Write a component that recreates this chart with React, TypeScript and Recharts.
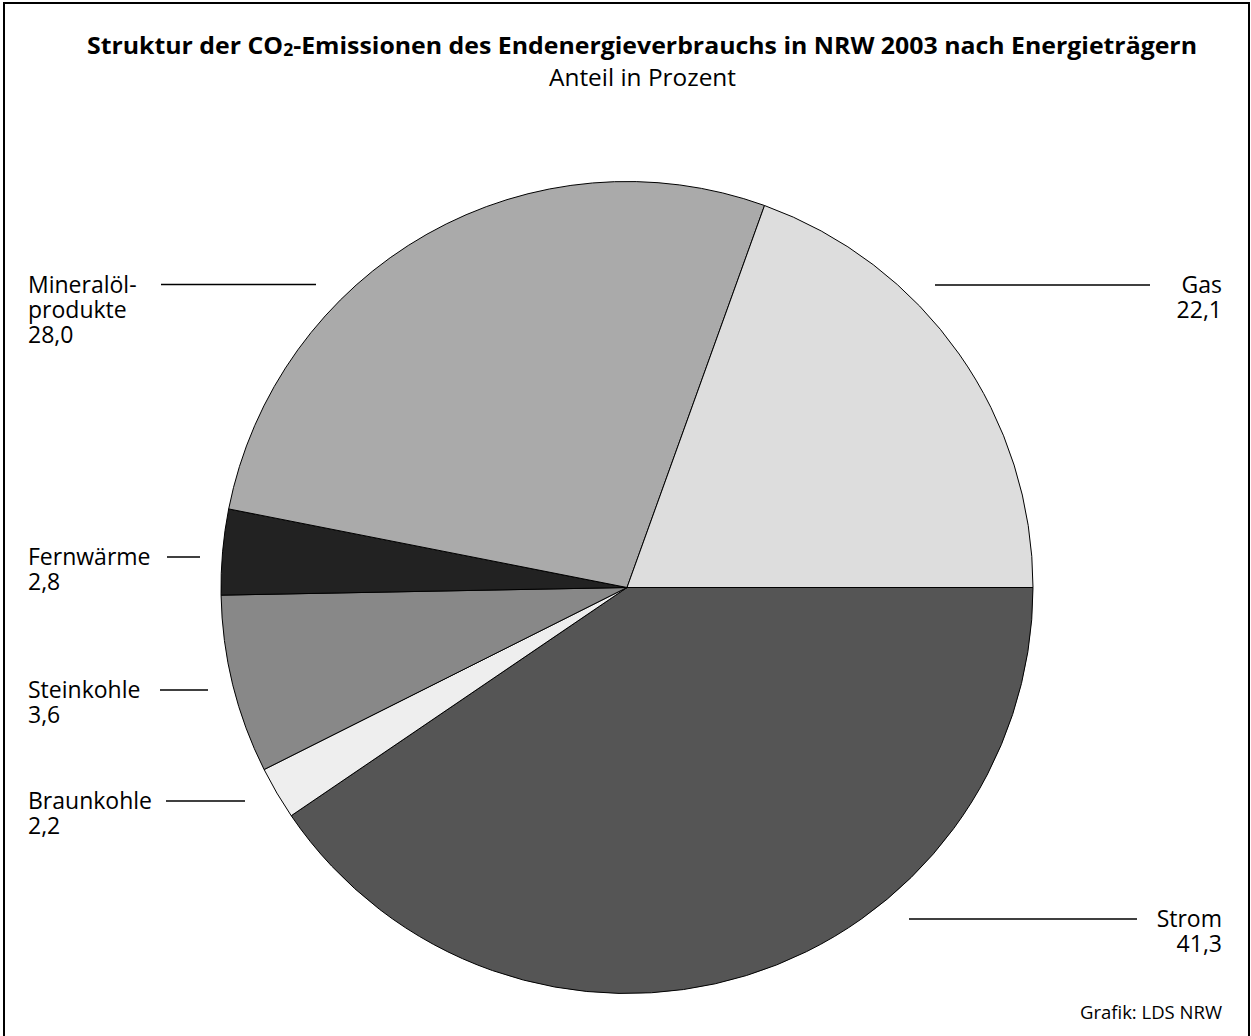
import React from 'react';
import { PieChart, Pie, Cell, Customized } from 'recharts';

// Slice order, clockwise from 3 o'clock
const categories = ['Strom', 'Braunkohle', 'Steinkohle', 'Fernwärme', 'Mineralölprodukte', 'Gas'];
// Share of the circle each slice occupies in the picture (percent)
const drawnShares = [40.5, 2.1, 7.1, 3.4, 27.4, 19.5];
// Values printed in the labels
const printedValues = ['41,3', '2,2', '3,6', '2,8', '28,0', '22,1'];
// Label text lines
const labelNames = [['Strom'], ['Braunkohle'], ['Steinkohle'], ['Fernwärme'], ['Mineralöl-', 'produkte'], ['Gas']];

const sliceColors = ['#555555', '#eeeeee', '#888888', '#222222', '#aaaaaa', '#dddddd'];

const labelLayout = [
  { side: 'right', textX: 1222, lineY: 919, x1: 909, x2: 1137 },
  { side: 'left', textX: 28, lineY: 801, x1: 166, x2: 245 },
  { side: 'left', textX: 28, lineY: 690, x1: 160, x2: 208 },
  { side: 'left', textX: 28, lineY: 557, x1: 167, x2: 200 },
  { side: 'left', textX: 28, lineY: 284.5, x1: 161, x2: 316 },
  { side: 'right', textX: 1222, lineY: 285, x1: 935, x2: 1150 },
];

const FONT = "'Open Sans', 'Noto Sans', sans-serif";
const W = 1251;
const H = 1036;

const data = categories.map((name, i) => ({ name, share: drawnShares[i] }));

const renderLabel = (props: any) => {
  const i = props.index;
  const lay = labelLayout[i];
  const lines = [...labelNames[i], printedValues[i]];
  const anchor = lay.side === 'left' ? 'start' : 'end';
  return (
    <g key={`lbl-${i}`}>
      <line x1={lay.x1} x2={lay.x2} y1={lay.lineY} y2={lay.lineY} stroke="#000" strokeWidth={1.6} />
      {lines.map((t, k) => (
        <text
          key={k}
          x={lay.textX}
          y={lay.lineY + 8 + k * 25}
          textAnchor={anchor}
          fontFamily={FONT}
          fontSize={23}
          fill="#000"
        >
          {t}
        </text>
      ))}
    </g>
  );
};

const Decor = () => (
  <g>
    <rect x={4} y={3} width={1245} height={1045} fill="none" stroke="#000" strokeWidth={2} />
    <text
      x={642}
      y={54}
      textAnchor="middle"
      fontFamily={FONT}
      fontWeight={700}
      fontSize={24}
      fill="#000"
      textLength={1110}
      lengthAdjust="spacingAndGlyphs"
    >
      Struktur der CO<tspan fontSize={17} dy={2}>2</tspan>
      <tspan dy={-2}>-Emissionen des Endenergieverbrauchs in NRW 2003 nach Energieträgern</tspan>
    </text>
    <text
      x={642.5}
      y={86}
      textAnchor="middle"
      fontFamily={FONT}
      fontSize={23}
      fill="#000"
      textLength={187}
      lengthAdjust="spacingAndGlyphs"
    >
      Anteil in Prozent
    </text>
    <text x={1222} y={1019} textAnchor="end" fontFamily={FONT} fontSize={18.5} fill="#000">
      Grafik: LDS NRW
    </text>
  </g>
);

export default function App() {
  return (
    <div style={{ position: 'absolute', left: 0, top: 0, width: W, height: H, background: '#fff' }}>
      <PieChart width={W} height={H} margin={{ top: 0, right: 0, bottom: 0, left: 0 }}>
        <Customized component={Decor} />
        <Pie
          data={data}
          dataKey="share"
          nameKey="name"
          cx={627}
          cy={587.5}
          innerRadius={0}
          outerRadius={406}
          startAngle={0}
          endAngle={-360}
          paddingAngle={0}
          stroke="#000"
          strokeWidth={1}
          label={renderLabel}
          labelLine={false}
          isAnimationActive={false}
        >
          {data.map((d, i) => (
            <Cell key={d.name} fill={sliceColors[i]} stroke="#000" strokeWidth={1} />
          ))}
        </Pie>
      </PieChart>
    </div>
  );
}
